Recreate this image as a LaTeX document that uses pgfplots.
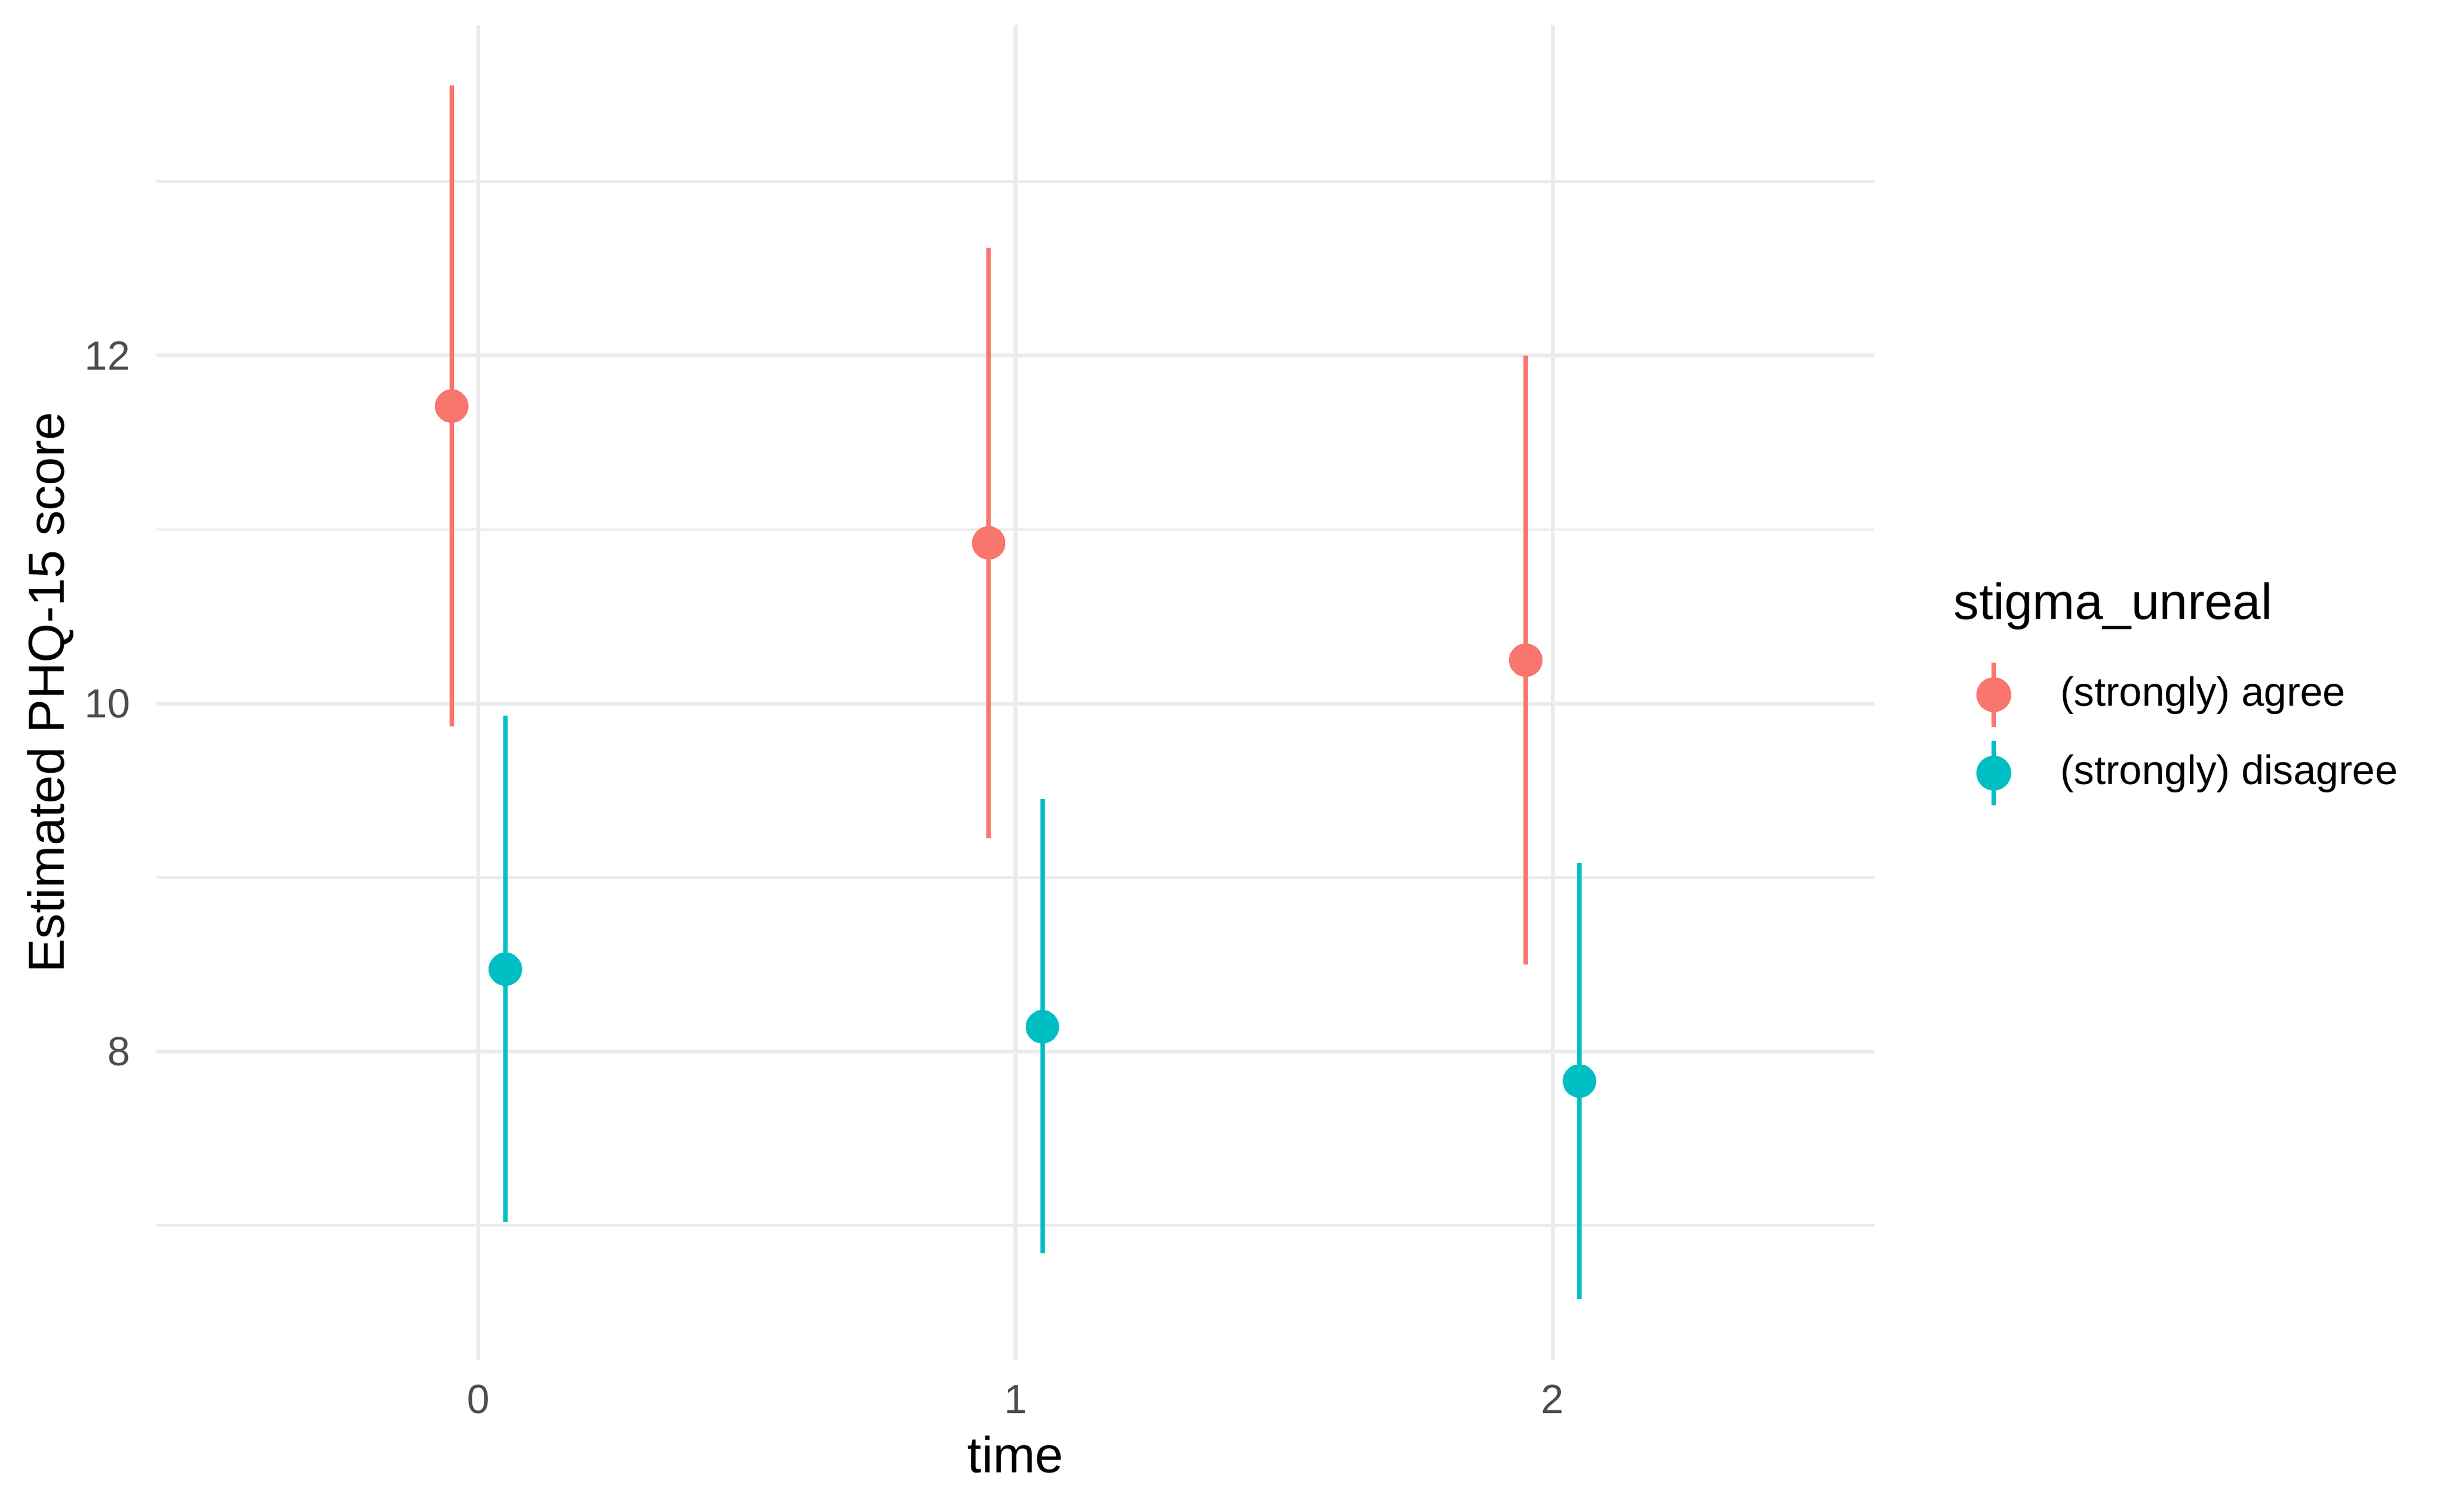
\documentclass[border=0pt]{standalone}
\usepackage{pgfplots}
\usepackage{pgfplotstable}
\pgfplotsset{compat=1.18}
\usepackage{fontspec}
\setmainfont{Liberation Sans}

\definecolor{agree}{HTML}{F8766D}
\definecolor{disagree}{HTML}{00BFC4}
\definecolor{gridc}{HTML}{EBEBEB}
\definecolor{ticklab}{HTML}{4D4D4D}

% estimate and 95% interval per time point, dodged by 0.05
\pgfplotstableread{
x     y      lo     hi
-0.05 11.710 9.868 13.552
0.95  10.924 9.225 12.620
1.95  10.250 8.499 12.000
}\agreetab
\pgfplotstableread{
x     y     lo    hi
0.05  8.474 7.022 9.929
1.05  8.143 6.841 9.452
2.05  7.831 6.577 9.085
}\disagreetab

\begin{document}
\begin{tikzpicture}
\begin{axis}[
  name=ax,
  scale only axis,
  width=362.9pt, height=281.85pt,
  xmin=-0.6, xmax=2.6,
  ymin=6.228, ymax=13.90,
  axis line style={draw=none},
  major tick length=0pt, minor tick length=0pt,
  xtick={0,1,2},
  ytick={8,10,12},
  minor ytick={7,9,11,13},
  xmajorgrids, ymajorgrids, yminorgrids,
  major grid style={gridc, line width=0.83pt},
  minor grid style={gridc, line width=0.53pt},
  /pgf/number format/assume math mode=true,
  tick label style={font=\fontsize{8.6}{10}\selectfont, text=ticklab},
  xticklabel style={anchor=base, yshift=-11.3pt},
  yticklabel style={anchor=east, inner sep=0pt, xshift=-5.3pt},
  xlabel={time},
  ylabel={Estimated PHQ-15 score},
  label style={font=\fontsize{10.7}{13}\selectfont},
  xlabel style={at={(axis description cs:0.5,0)}, anchor=base, yshift=-23.8pt},
  ylabel style={at={(axis description cs:-0.0537,0.5)}, anchor=base},
  legend image code/.code={
    \draw[line width=0.95pt, #1] (0pt,-6.8pt) -- (0pt,6.8pt);
    \fill[#1] (0pt,0pt) circle (3.48pt);
    \path (-8.2pt,0pt) (3.48pt,0pt);
  },
  legend cell align=left,
  legend style={draw=none, fill=none, at={(1.0455,0.5248)}, anchor=north west,
    inner xsep=0pt, inner ysep=0pt, row sep=2.0pt,
    font=\fontsize{8.6}{10}\selectfont, nodes={inner sep=0pt},
    /tikz/every odd column/.append style={column sep=10.4pt}},
]
\addlegendimage{agree}
\addlegendentry{(strongly) agree}
\addlegendimage{disagree}
\addlegendentry{(strongly) disagree}

\addplot[forget plot, draw=none, mark=none,
  error bars/.cd, y dir=both, y explicit, error mark=none,
  error bar style={agree, line width=0.95pt}]
  table[x=x, y=y, y error plus expr=\thisrow{hi}-\thisrow{y},
        y error minus expr=\thisrow{y}-\thisrow{lo}] {\agreetab};
\addplot[forget plot, only marks, color=agree, mark=*, mark size=3.48pt,
  mark options={draw=agree, fill=agree, line width=0pt}]
  table[x=x, y=y] {\agreetab};

\addplot[forget plot, draw=none, mark=none,
  error bars/.cd, y dir=both, y explicit, error mark=none,
  error bar style={disagree, line width=0.95pt}]
  table[x=x, y=y, y error plus expr=\thisrow{hi}-\thisrow{y},
        y error minus expr=\thisrow{y}-\thisrow{lo}] {\disagreetab};
\addplot[forget plot, only marks, color=disagree, mark=*, mark size=3.48pt,
  mark options={draw=disagree, fill=disagree, line width=0pt}]
  table[x=x, y=y] {\disagreetab};
\end{axis}

\node[anchor=base west, inner sep=0pt, font=\fontsize{10.7}{13}\selectfont]
  at ([xshift=379.4pt, yshift=156.4pt]ax.south west) {stigma\_unreal};

\pgfresetboundingbox
\useasboundingbox ([xshift=-33pt, yshift=-32pt]ax.south west)
  rectangle ([xshift=120.6pt, yshift=5.27pt]ax.north east);
\end{tikzpicture}
\end{document}
